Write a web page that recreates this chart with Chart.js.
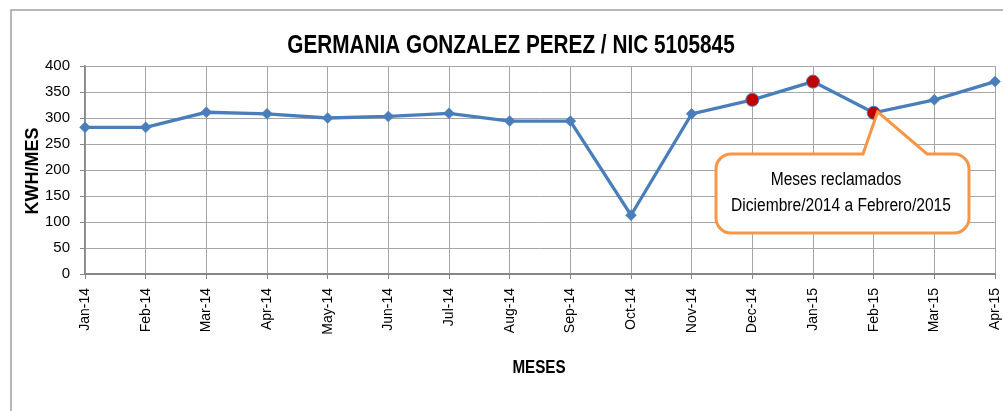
<!DOCTYPE html>
<html>
<head>
<meta charset="utf-8">
<script src="https://cdn.jsdelivr.net/npm/chart.js@4.4.0/dist/chart.umd.min.js"></script>
<style>
  html, body { margin: 0; padding: 0; background: #ffffff; }
  #wrap { width: 1003px; height: 411px; position: relative; }
</style>
</head>
<body>
<div id="wrap"><canvas id="c" width="1003" height="411"></canvas></div>
<script>
// ---- Data ----
const months = ['Jan-14','Feb-14','Mar-14','Apr-14','May-14','Jun-14','Jul-14','Aug-14','Sep-14','Oct-14','Nov-14','Dec-14','Jan-15','Feb-15','Mar-15','Apr-15'];
const kwhPerMonth = [282, 282, 311, 308, 300, 303, 309, 294, 294, 113, 308, 335, 370, 310, 335, 370];
const claimedMonths = ['Dec-14', 'Jan-15', 'Feb-15'];
const yTicks = [0, 50, 100, 150, 200, 250, 300, 350, 400];
const chartTitle = 'GERMANIA GONZALEZ PEREZ / NIC 5105845';
const yTitle = 'KWH/MES';
const xTitle = 'MESES';
const calloutLines = ['Meses reclamados', 'Diciembre/2014 a Febrero/2015'];
const calloutMonth = 'Feb-15';

const BLUE = '#4a7ebb';
const RED = '#c00000';
const GRID = '#a6a6a6';
const AXIS = '#868686';
const ORANGE = '#f79646';

const isClaimed = (ctx) => claimedMonths.includes(months[ctx.dataIndex]);

function narrowText(ctx, text, x, y, font, sx) {
  ctx.save();
  ctx.translate(x, y);
  ctx.scale(sx, 1);
  ctx.font = font;
  ctx.fillText(text, 0, 0);
  ctx.restore();
}

const decorPlugin = {
  id: 'decor',
  beforeDraw(chart) {
    const ctx = chart.ctx;
    ctx.save();
    ctx.fillStyle = '#ffffff';
    ctx.fillRect(0, 0, chart.width, chart.height);
    ctx.strokeStyle = '#a0a0a0';
    ctx.lineWidth = 1.5;
    ctx.strokeRect(11, 10, chart.width + 20, chart.height + 20);
    ctx.restore();
  },
  afterDraw(chart) {
    const ctx = chart.ctx;
    ctx.save();
    ctx.fillStyle = '#000000';
    ctx.textAlign = 'center';
    ctx.textBaseline = 'alphabetic';
    // Title
    narrowText(ctx, chartTitle, 511, 53, 'bold 25px "Liberation Sans", sans-serif', 0.83);
    // X title
    narrowText(ctx, xTitle, 539, 373, 'bold 19px "Liberation Sans", sans-serif', 0.8);
    // Y title
    ctx.save();
    ctx.translate(38, 171);
    ctx.rotate(-Math.PI / 2);
    ctx.font = 'bold 18px "Liberation Sans", sans-serif';
    ctx.fillText(yTitle, 0, 0);
    ctx.restore();

    // Callout
    const xs = chart.scales.x, ys = chart.scales.y;
    const idx = months.indexOf(calloutMonth);
    const tipX = xs.getPixelForValue(idx) + 4;
    const tipY = ys.getPixelForValue(kwhPerMonth[idx]) - 1;
    const L = 716, R = 969, T = 154, B = 233, r = 15;
    const bL = 863, bR = 927;
    ctx.beginPath();
    ctx.moveTo(L + r, T);
    ctx.lineTo(bL, T);
    ctx.lineTo(tipX, tipY);
    ctx.lineTo(bR, T);
    ctx.lineTo(R - r, T);
    ctx.arcTo(R, T, R, T + r, r);
    ctx.lineTo(R, B - r);
    ctx.arcTo(R, B, R - r, B, r);
    ctx.lineTo(L + r, B);
    ctx.arcTo(L, B, L, B - r, r);
    ctx.lineTo(L, T + r);
    ctx.arcTo(L, T, L + r, T, r);
    ctx.closePath();
    ctx.fillStyle = '#ffffff';
    ctx.fill();
    ctx.strokeStyle = ORANGE;
    ctx.lineWidth = 3;
    ctx.stroke();
    ctx.fillStyle = '#000000';
    ctx.textAlign = 'center';
    ctx.textBaseline = 'alphabetic';
    narrowText(ctx, calloutLines[0], 836, 185, '18px "Liberation Sans", sans-serif', 0.865);
    narrowText(ctx, calloutLines[1], 841, 211, '18px "Liberation Sans", sans-serif', 0.865);
    ctx.restore();
  }
};

new Chart(document.getElementById('c'), {
  type: 'line',
  data: {
    labels: months,
    datasets: [{
      data: kwhPerMonth,
      borderColor: BLUE,
      borderWidth: 3.3,
      tension: 0,
      fill: false,
      pointStyle: (ctx) => isClaimed(ctx) ? 'circle' : 'rectRot',
      pointRadius: (ctx) => isClaimed(ctx) ? 6.5 : 5.5,
      pointBackgroundColor: (ctx) => isClaimed(ctx) ? RED : BLUE,
      pointBorderColor: BLUE,
      pointBorderWidth: (ctx) => isClaimed(ctx) ? 1 : 0.5
    }]
  },
  options: {
    responsive: false,
    animation: false,
    devicePixelRatio: 1,
    layout: { padding: { left: 0, right: 8, top: 66, bottom: 0 } },
    plugins: {
      legend: { display: false },
      title: { display: false },
      tooltip: { enabled: false }
    },
    scales: {
      x: {
        type: 'category',
        offset: false,
        grid: { color: GRID, lineWidth: 1, drawTicks: true, tickLength: 5, tickColor: AXIS },
        border: { color: AXIS, width: 2 },
        ticks: {
          color: '#000000',
          font: { family: '"Liberation Sans", sans-serif', size: 14 },
          minRotation: 90,
          maxRotation: 90,
          autoSkip: false,
          padding: 9
        },
        afterFit(scale) {
          scale.height = 137;
          scale.paddingLeft = 0;
          scale.paddingRight = 0;
        }
      },
      y: {
        min: 0,
        max: 400,
        afterBuildTicks(scale) { scale.ticks = yTicks.map(v => ({ value: v })); },
        grid: { color: GRID, lineWidth: 1, drawTicks: true, tickLength: 5, tickColor: AXIS },
        border: { color: AXIS, width: 1.5 },
        ticks: {
          color: '#000000',
          font: { family: '"Liberation Sans", sans-serif', size: 15 },
          padding: 10
        },
        afterFit(scale) { scale.width = 85; }
      }
    }
  },
  plugins: [decorPlugin]
});
</script>
</body>
</html>
